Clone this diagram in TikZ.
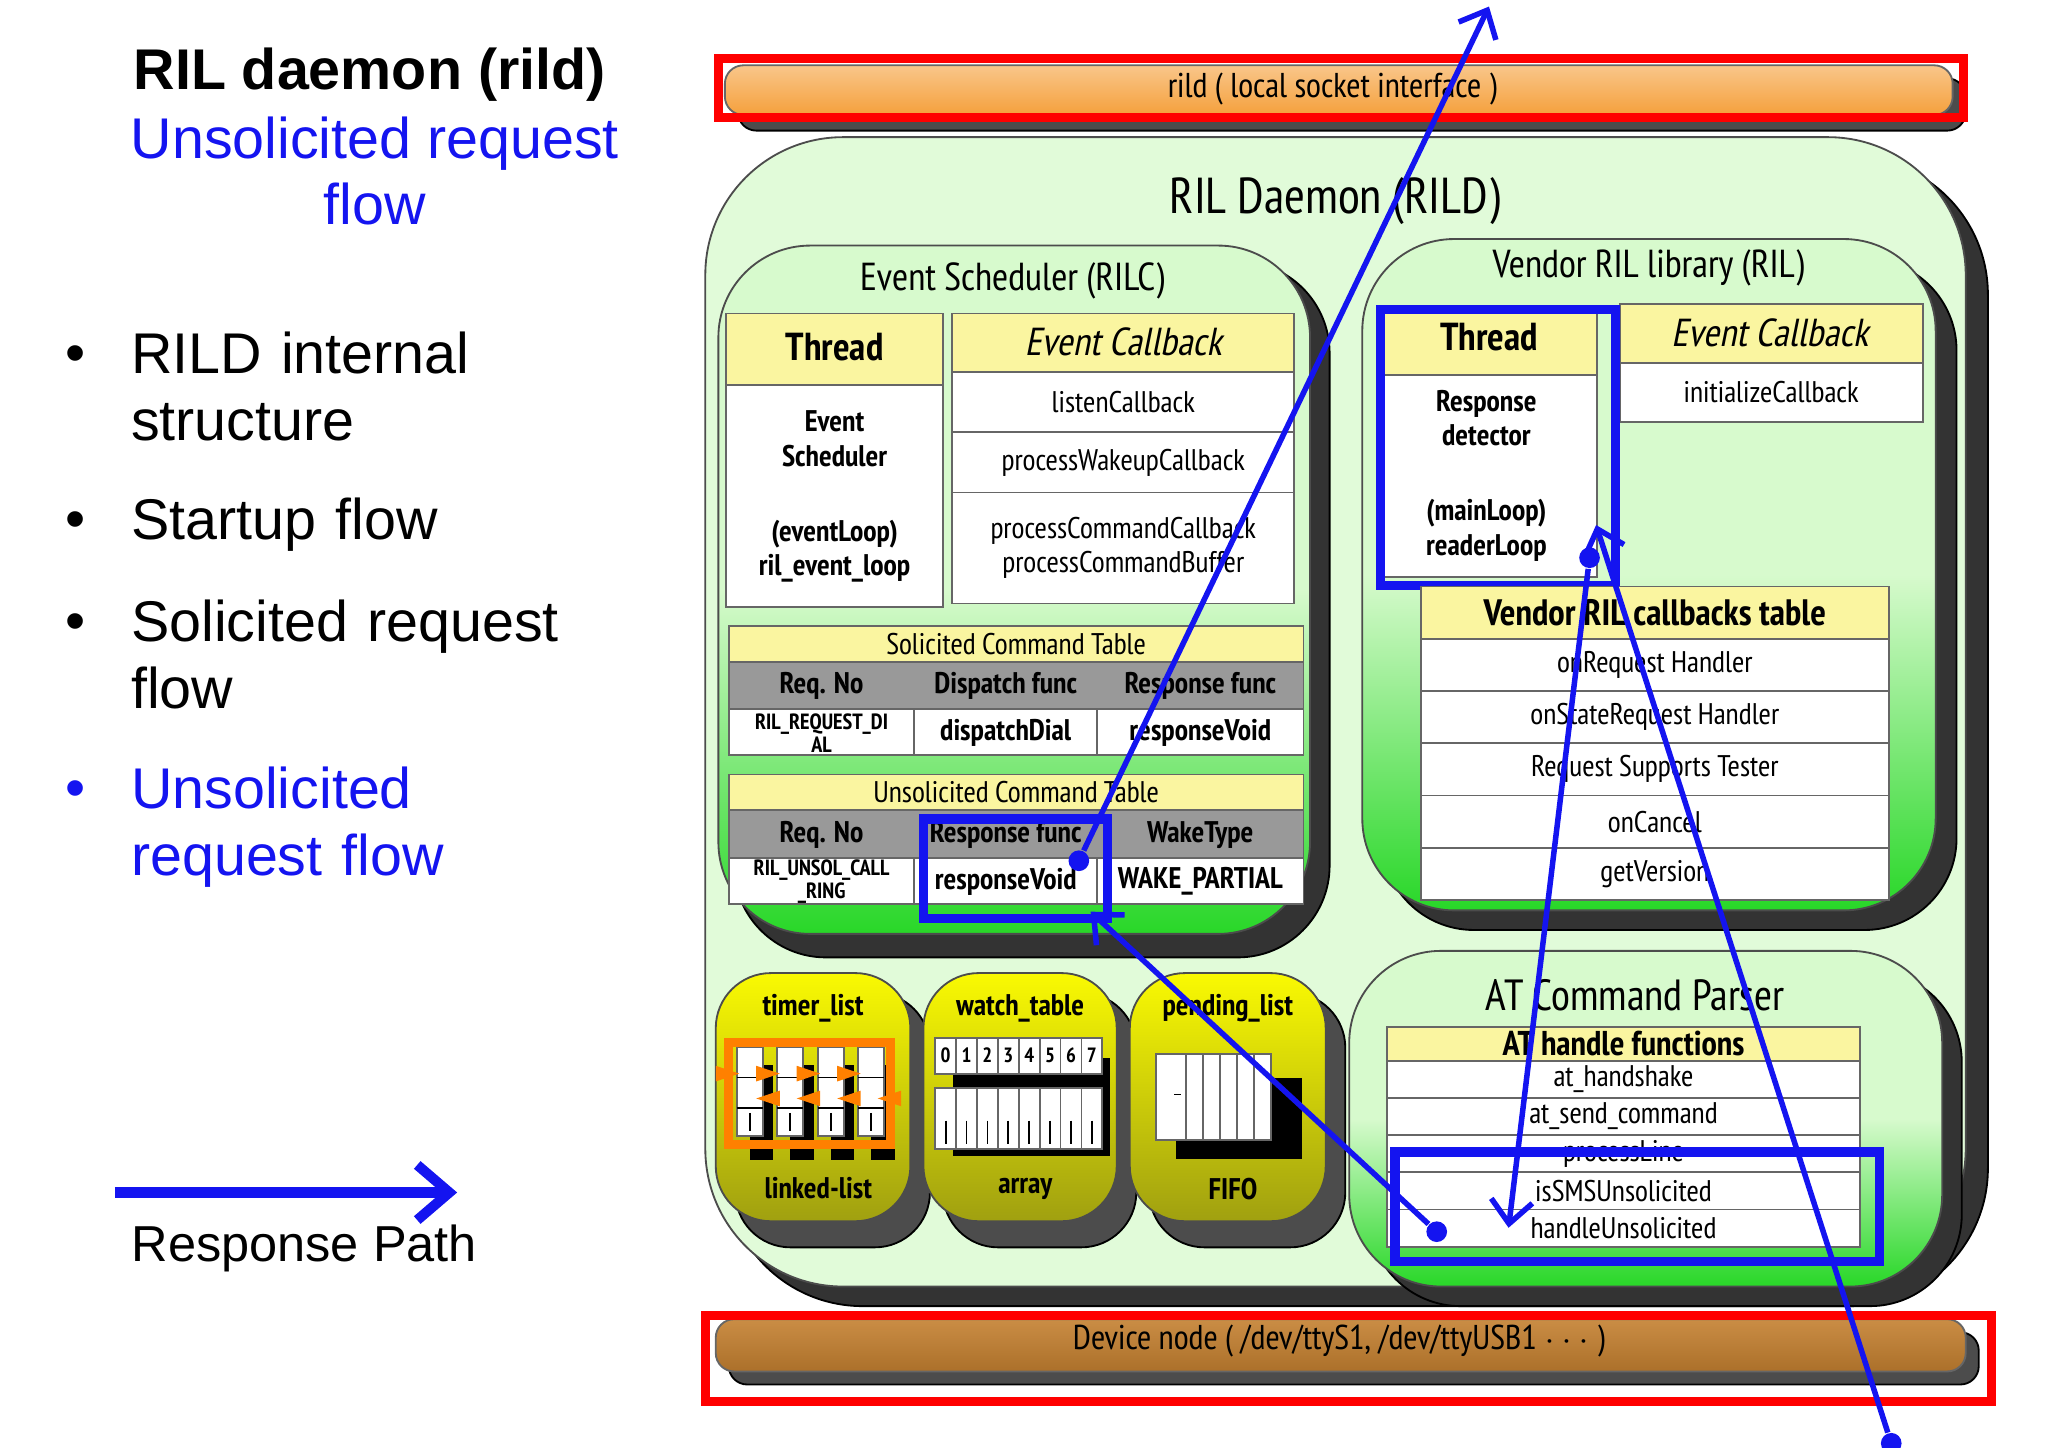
\documentclass[tikz,border=0pt]{standalone}
\usepackage{fontspec}
\setmainfont{Liberation Sans}
\newfontfamily\narrow{PT Sans Narrow}
\newfontfamily\narrowit{PT Sans Narrow}[FakeSlant=0.2]
\usetikzlibrary{arrows.meta, positioning}
\definecolor{hdryellow}{RGB}{250,245,160}
\definecolor{panelgreen}{RGB}{215,250,205}
\definecolor{deepgreen}{RGB}{40,215,40}
\definecolor{olive}{RGB}{200,200,20}
\definecolor{barorange}{RGB}{245,160,60}
\definecolor{respblue}{RGB}{20,20,240}

\tikzset{
  shadowbox/.style={fill=black!80, rounded corners=12},
  panel/.style={draw=black!70, rounded corners=14, top color=panelgreen, bottom color=deepgreen, middle color=panelgreen},
  hdr/.style={draw=black!60, fill=hdryellow},
  cell/.style={draw=black!60, fill=white},
  grey/.style={draw=black!60, fill=black!40},
  txt/.style={font=\narrow\fontsize{6.5}{7.5}\selectfont, align=center},
  btxt/.style={font=\narrow\bfseries\fontsize{6.5}{7.5}\selectfont, align=center},
  big/.style={font=\narrow\fontsize{8.5}{10}\selectfont},
  ital/.style={font=\narrowit\fontsize{8.5}{10}\selectfont},
  bullet/.style={font=\fontsize{12.5}{14.5}\selectfont, anchor=base west, align=left},
  path/.style={respblue, line width=1.2pt},
  redbox/.style={draw=red, line width=2pt},
  bluebox/.style={draw=respblue, line width=2pt},
  dot/.style={circle, fill=respblue, inner sep=0pt, minimum size=4.5pt},
}
% box with centred text
\newcommand{\tcell}[6]{\draw[#1] (#2,#3) rectangle (#4,#5);
  \node[txt] at ({(#2+#4)/2},{(#3+#5)/2}) {#6};}

\begin{document}
\begin{tikzpicture}[x=0.01cm, y=-0.01cm]
\useasboundingbox (0,0) rectangle (1568,1108);

% left side text
\node[font=\bfseries\fontsize{12.5}{14.5}\selectfont] (title) at (283,57) {RIL daemon (rild)};
\node[font=\fontsize{12.5}{14.5}\selectfont, text=respblue, align=center] (subtitle) at (287,131) {Unsolicited request\\flow};
\foreach \y/\t in {285/{RILD internal\\structure}, 412/{Startup flow}, 490/{Solicited request\\flow}} {
  \node[bullet] at (38,\y) {\textbullet};
  \node[bullet, text width=4.2cm, anchor=north west] at (88,\y-43) {\t};
}
\node[bullet, text=respblue] at (38,618) {\textbullet};
\node[bullet, text=respblue, text width=4.2cm, anchor=north west] (cur) at (88,575) {Unsolicited\\request flow};
\coordinate (legA) at (88,913);
\coordinate (legB) at (350,913);
\draw[path, line width=2.2pt, -{Straight Barb[length=7pt, width=12pt]}] (legA) -- (legB);
\node[font=\fontsize{11}{13}\selectfont] (legend) at (233,956) {Response Path};

% top bar
\draw[fill=black!70, rounded corners=4] (565,60) rectangle (1505,100);
\draw[draw=black!60, top color=barorange!60, bottom color=barorange, rounded corners=4] (555,50) rectangle (1495,88);
\node[txt, font=\narrow\fontsize{7.5}{9}\selectfont] (rild) at (1020,68) {rild ( local socket interface )};
\draw[redbox] (550,45) rectangle (1503,90);

% main panel
\draw[shadowbox, rounded corners=30] (555,120) rectangle (1522,1000);
\draw[draw=black!70, fill=panelgreen!75, rounded corners=30] (540,105) rectangle (1505,985);
\node[big, font=\narrow\fontsize{11}{13}\selectfont] (rilDaemon) at (1022,154) {RIL Daemon (RILD)};

% Event scheduler
\draw[shadowbox, rounded corners=20] (562,200) rectangle (1018,733);
\draw[panel, rounded corners=20] (550,188) rectangle (1003,715);
\node[big] (evsched) at (775,215) {Event Scheduler (RILC)};
\draw[hdr] (556,240) rectangle (722,295);
\node[btxt, font=\narrow\bfseries\fontsize{8.5}{10}\selectfont] (thread1) at (639,266) {Thread};
\draw[cell] (556,295) rectangle (722,465);
\node[btxt] (evs) at (639,336) {Event\\Scheduler};
\node[btxt] (evl) at (639,422) {(eventLoop)\\ril\_event\_loop};
\draw[hdr] (729,240) rectangle (991,285);
\node[ital] (evcb1) at (860,262) {Event Callback};
\tcell{cell}{729}{285}{991}{331}{listenCallback}
\tcell{cell}{729}{331}{991}{377}{processWakeupCallback}
\tcell{cell}{729}{377}{991}{462}{processCommandCallback\\processCommandBuffer}

% solicited table
\tcell{hdr}{558}{479}{998}{507}{Solicited Command Table}
\draw[grey] (558,507) rectangle (998,543);
\node[btxt] at (629,525) {Req. No};
\node[btxt] at (770,525) {Dispatch func};
\node[btxt] at (919,525) {Response func};
\foreach \xa/\xb in {558/700, 700/840, 840/998} \draw[cell] (\xa,543) rectangle (\xb,578);
\node[btxt, font=\narrow\bfseries\fontsize{4.8}{5}\selectfont] at (629,561) {RIL\_REQUEST\_DI\\AL};
\node[btxt] at (770,561) {dispatchDial};
\node[btxt] (solResp) at (919,561) {responseVoid};

% unsolicited table
\tcell{hdr}{558}{593}{998}{620}{Unsolicited Command Table}
\draw[grey] (558,620) rectangle (998,657);
\node[btxt] at (629,639) {Req. No};
\node[btxt] at (770,639) {Response func};
\node[btxt] at (919,639) {WakeType};
\foreach \xa/\xb in {558/700, 700/840, 840/998} \draw[cell] (\xa,657) rectangle (\xb,692);
\node[btxt, font=\narrow\bfseries\fontsize{4.8}{5}\selectfont] at (629,675) {RIL\_UNSOL\_CALL\\\_RING};
\node[btxt] (unsolResp) at (770,675) {responseVoid};
\node[btxt] at (919,675) {WAKE\_PARTIAL};
\draw[bluebox] (707,627) rectangle (848,703);

% vendor RIL library
\draw[shadowbox, rounded corners=20] (1058,198) rectangle (1498,712);
\draw[panel, rounded corners=20] (1043,183) rectangle (1482,697);
\node[big] (vendor) at (1262,205) {Vendor RIL library (RIL)};
\draw[hdr] (1060,237) rectangle (1223,287);
\node[btxt, font=\narrow\bfseries\fontsize{8.5}{10}\selectfont] (thread2) at (1140,258) {Thread};
\draw[cell] (1060,287) rectangle (1223,442);
\node[btxt] (respdet) at (1138,320) {Response\\detector};
\node[btxt] (readerLoop) at (1138,406) {(mainLoop)\\readerLoop};
\draw[hdr] (1240,233) rectangle (1472,278);
\node[ital] (evcb2) at (1355,255) {Event Callback};
\tcell{cell}{1240}{278}{1472}{323}{initializeCallback}
\draw[bluebox] (1057,237) rectangle (1237,448);
\draw[hdr] (1088,449) rectangle (1446,489);
\node[btxt, font=\narrow\bfseries\fontsize{8}{10}\selectfont] (vtab) at (1267,469) {Vendor RIL callbacks table};
\foreach \i/\t in {0/onRequest Handler, 1/onStateRequest Handler, 2/Request Supports Tester, 3/onCancel, 4/getVersion} {
  \tcell{cell}{1088}{489+40*\i}{1446}{529+40*\i}{\t}
}

% small panels
\foreach \xa/\xb/\top/\bot in {548/697/timer\_list/linked-list, 707/855/watch\_table/array, 865/1015/pending\_list/FIFO} {
  \draw[fill=black!70, rounded corners=12] (\xa+15,760) rectangle (\xb+15,955);
  \draw[draw=black!70, top color=yellow!90!olive, bottom color=olive!80!black, rounded corners=12] (\xa,745) rectangle (\xb,935);
  \node[btxt] at ({(\xa+\xb)/2},772) {\top};
  \node[btxt] at ({(\xa+\xb)/2+4},910) {\bot};
}
% linked list
\foreach \i in {0,...,3} {
  \fill[black] (574+31*\i,815) rectangle (592+31*\i,888);
  \draw[cell] (564+31*\i,802) rectangle (584+31*\i,870);
  \draw (564+31*\i,825) -- (584+31*\i,825) (564+31*\i,848) -- (584+31*\i,848) (574+31*\i,852) -- (574+31*\i,866);
}
\draw[orange, line width=2pt] (558,798) rectangle (682,876);
\foreach \i in {0,...,3} {
  \fill[orange] (548+31*\i,816) -- (566+31*\i,822) -- (548+31*\i,828) -- cycle;
  \fill[orange] (690-31*\i,835) -- (672-31*\i,841) -- (690-31*\i,847) -- cycle;
}
% array
\fill[black] (730,810) rectangle (850,885);
\foreach \i in {0,...,7} {
  \draw[cell] (716+16*\i,795) rectangle (732+16*\i,822);
  \node[btxt, font=\narrow\bfseries\fontsize{4.5}{5}\selectfont] at (724+16*\i,808) {\i};
  \draw[cell] (716+16*\i,833) rectangle (732+16*\i,880);
  \draw (724+16*\i,858) -- (724+16*\i,876);
}
% fifo
\fill[black] (900,825) rectangle (997,887);
\draw[cell] (885,807) rectangle (908,873);
\foreach \i in {0,...,4} \draw[cell] (908+13*\i,807) rectangle (921+13*\i,873);
\draw (899,838) -- (904,838);

% AT command parser
\draw[shadowbox, rounded corners=20] (1048,743) rectangle (1502,1000);
\draw[panel, rounded corners=20] (1033,728) rectangle (1487,985);
\node[big, font=\narrow\fontsize{9.5}{11}\selectfont] (atp) at (1252,762) {AT Command Parser};
\draw[hdr] (1062,786) rectangle (1424,812);
\node[btxt, font=\narrow\bfseries\fontsize{7.5}{9}\selectfont] (athdr) at (1243,799) {AT handle functions};
\foreach \i/\t in {0/at\_handshake, 1/at\_send\_command, 2/processLine, 3/isSMSUnsolicited, 4/handleUnsolicited} {
  \tcell{cell}{1062}{812+28.5*\i}{1424}{840.5+28.5*\i}{\t}
}
\draw[bluebox] (1068,882) rectangle (1439,966);

% bottom bar
\draw[fill=black!70, rounded corners=4] (558,1020) rectangle (1515,1060);
\draw[draw=black!60, top color=barorange!80!black!90, bottom color=barorange!70!black, rounded corners=4] (548,1010) rectangle (1505,1050);
\node[txt, font=\narrow\fontsize{7.5}{9}\selectfont] (dev) at (1025,1027) {Device node ( /dev/ttyS1, /dev/ttyUSB1 $\cdots$ )};
\draw[redbox] (540,1007) rectangle (1525,1073);

% response path
\node[dot] (pDevice) at (1448,1105) {};
\coordinate (pReader) at (1222,402);
\node[dot] (pReadOut) at (1217,427) {};
\coordinate (pHandleIn) at (1155,940);
\node[dot] (pHandle) at (1100,943) {};
\coordinate (pTable) at (835,698);
\node[dot] (pTableOut) at (826,659) {};
\coordinate (pRild) at (1140,5);
\tikzset{rtip/.style={-{Straight Barb[length=5pt, width=9pt]}}}
\draw[path, rtip] (pDevice) -- (pReader);
\draw[path, rtip] (pReadOut) -- (pHandleIn);
\draw[path, rtip] (pHandle) -- (pTable);
\draw[path, rtip] (pTableOut) -- (pRild);
\end{tikzpicture}
\end{document}
